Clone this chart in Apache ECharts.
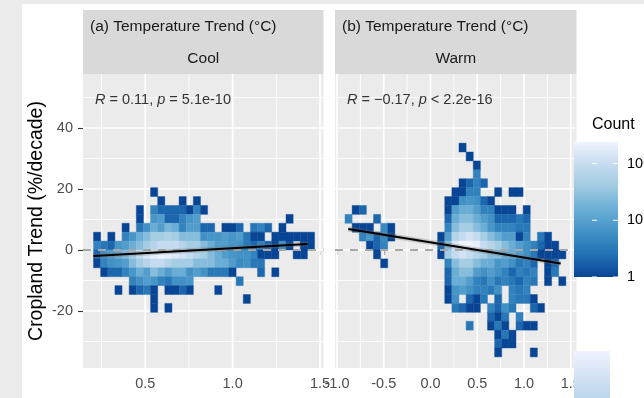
<!DOCTYPE html>
<html>
<head>
<meta charset="utf-8">
<script src="https://cdn.jsdelivr.net/npm/echarts@6/dist/echarts.min.js"></script>
<style>
html,body{margin:0;padding:0;background:#fff;}
#chart{width:644px;height:398px;}
</style>
</head>
<body>
<div id="chart"></div>
<script>
// ---------------- data ----------------
// Cropland trend bins (shared y): bin k spans [k*Y_BIN, (k+1)*Y_BIN]
const Y_BIN = 2.92;
// Cool panel: temperature-trend bins, column c spans [(COOL_FIRST+c)*COOL_BIN, ...]
const COOL_BIN = 0.0408;
const COOL_FIRST = 5;
const COOL_TOP_ROW = 6;
// Warm panel
const WARM_BIN = 0.0762;
const WARM_FIRST = -12;
const WARM_TOP_ROW = 11;

// counts per row (top row first); each entry = [column, count]
const coolRows = [
  [[8,1]],
  [[9,1],[12,1],[14,1]],
  [[6,1],[8,4],[9,2],[10,2],[11,2],[12,2],[13,1],[14,4],[15,1]],
  [[6,1],[8,7],[9,9],[10,2],[11,2],[12,4],[13,7],[14,9],[27,1]],
  [[4,1],[6,3],[7,6],[8,15],[9,9],[10,20],[11,15],[12,4],[13,9],[14,9],[15,2],[16,2],[18,1],[19,1],[20,2],[22,3],[23,4],[24,2],[26,1]],
  [[0,1],[2,1],[4,4],[5,7],[6,15],[7,25],[8,45],[9,45],[10,55],[11,45],[12,25],[13,25],[14,25],[15,6],[16,7],[17,7],[18,9],[19,7],[20,9],[21,3],[22,1],[23,1],[25,1],[26,1],[27,1],[28,1],[29,1],[30,1]],
  [[0,4],[1,3],[2,2],[3,7],[4,9],[5,15],[6,25],[7,45],[8,65],[9,95],[10,95],[11,95],[12,65],[13,45],[14,45],[15,25],[16,15],[17,9],[18,9],[19,7],[20,6],[21,3],[22,2],[23,4],[24,2],[25,1],[26,6],[27,1],[29,1],[30,1]],
  [[0,2],[1,6],[2,9],[3,15],[4,25],[5,45],[6,95],[7,150],[8,200],[9,240],[10,200],[11,160],[12,130],[13,95],[14,65],[15,45],[16,25],[17,15],[18,9],[19,7],[20,6],[21,6],[22,4],[23,1],[24,1],[25,1],[28,1],[29,1]],
  [[0,1],[1,4],[2,6],[3,7],[4,9],[5,25],[6,45],[7,65],[8,95],[9,95],[10,65],[11,45],[12,45],[13,45],[14,25],[15,25],[16,25],[17,15],[18,15],[19,9],[20,5],[21,6],[22,3],[23,3]],
  [[1,1],[2,2],[3,2],[4,4],[5,7],[6,15],[7,9],[8,25],[9,15],[10,9],[11,15],[12,15],[13,6],[14,9],[15,6],[16,3],[17,3],[18,3],[19,1],[23,2],[25,1]],
  [[5,4],[6,6],[7,9],[8,7],[9,4],[10,3],[11,6],[12,6],[13,7],[20,3]],
  [[3,1],[5,1],[6,2],[7,3],[8,1],[10,1],[11,1],[12,2],[13,1],[17,1]],
  [[8,1],[21,1]],
  [[8,1],[10,1]]
];

const warmRows = [
  [[16,1]],
  [[17,1]],
  [[18,1]],
  [[18,4]],
  [[16,1],[17,2],[18,4],[19,2]],
  [[15,1],[16,1],[17,4],[18,4],[21,1],[23,1],[24,1]],
  [[14,1],[15,1],[16,6],[17,7],[18,6],[19,2],[20,1]],
  [[1,1],[2,2],[14,1],[15,9],[16,15],[17,15],[18,9],[19,4],[20,4],[21,1],[22,1],[23,1],[25,1]],
  [[0,4],[4,2],[14,2],[15,15],[16,25],[17,25],[18,15],[19,9],[20,6],[21,2],[22,2],[23,2],[24,3],[25,2]],
  [[1,1],[2,1],[3,1],[5,5],[6,1],[14,4],[15,25],[16,45],[17,45],[18,25],[19,15],[20,7],[21,4],[22,4],[23,4],[24,3],[25,3]],
  [[2,4],[3,7],[4,2],[5,5],[6,1],[13,1],[14,9],[15,65],[16,95],[17,130],[18,95],[19,45],[20,25],[21,15],[22,9],[23,9],[24,1],[25,4],[27,3],[28,1]],
  [[3,1],[4,2],[5,4],[13,2],[14,25],[15,160],[16,240],[17,240],[18,200],[19,95],[20,65],[21,45],[22,25],[23,15],[24,9],[25,6],[26,4],[27,2],[28,1],[29,1]],
  [[4,1],[13,1],[14,45],[15,95],[16,130],[17,95],[18,65],[19,45],[20,25],[21,25],[22,15],[23,15],[24,9],[25,6],[26,3],[27,1],[28,1],[29,1],[30,1]],
  [[5,1],[14,4],[15,25],[16,45],[17,45],[18,25],[19,15],[20,15],[21,7],[22,9],[23,6],[24,3],[25,4],[26,2],[28,1],[29,2]],
  [[14,2],[15,15],[16,25],[17,25],[18,9],[19,6],[20,9],[21,6],[22,4],[23,2],[24,4],[25,3],[26,4],[28,1],[29,3]],
  [[14,2],[15,15],[16,15],[17,9],[18,4],[19,3],[20,6],[21,3],[22,4],[23,3],[24,2],[25,4],[26,3],[28,1],[30,1]],
  [[14,1],[15,7],[16,9],[17,6],[18,4],[19,4],[20,3],[21,6],[23,4],[24,3],[25,4]],
  [[14,1],[15,6],[17,2],[18,1],[19,3],[21,2],[23,4],[24,3],[25,3],[26,1]],
  [[15,3],[16,2],[17,1],[18,1],[20,4],[21,2],[22,6],[23,3],[26,2],[27,1]],
  [[20,2],[21,1],[22,3],[24,4]],
  [[17,3],[20,1],[21,3],[22,1],[24,2],[25,1],[26,1]],
  [[21,1],[22,3],[23,1]],
  [[21,2],[22,1],[23,1]],
  [[21,1],[26,1]]
];

// linear fits (end points)
const coolFitX = [0.203, 1.429];
const coolFitY = [-2.0, 2.0];
const warmFitX = [-0.879, 1.392];
const warmFitY = [6.9, -4.4];

// axes
const coolXRange = [0.1437, 1.5201];
const warmXRange = [-1.0214, 1.5615];
const yRange = [-38.69, 57.70];
const coolXMajor = [0.5, 1.0, 1.5];
const coolXMinor = [0.25, 0.75, 1.25];
const warmXMajor = [-1.0, -0.5, 0.0, 0.5, 1.0, 1.5];
const warmXMinor = [-0.75, -0.25, 0.25, 0.75, 1.25];
const yMajor = [-20, 0, 20, 40];
const yMinor = [-30, -10, 10, 30, 50];

const countTicks = [1, 10, 100];
const countMaxLog = 2.38;

const stripTitles = ['(a) Temperature Trend (\u00B0C)', '(b) Temperature Trend (\u00B0C)'];
const panelNames = ['Cool', 'Warm'];
const statLabels = ['{i|R} = 0.11, {i|p} = 5.1e-10', '{i|R} = \u22120.17, {i|p} < 2.2e-16'];

// ---------------- build ----------------
const BLUES = ['#084594', '#2171B5', '#4292C6', '#6BAED6', '#9ECAE1', '#C6DBEF', '#EFF3FF'];
const FONT = 'Liberation Sans, Arial, Helvetica, sans-serif';

function cells(rows, first, bw, topRow) {
  const out = [];
  rows.forEach((row, r) => {
    const k = topRow - r;
    row.forEach(([c, n]) => {
      out.push([(first + c + 0.5) * bw, (k + 0.5) * Y_BIN, Math.log10(n), n]);
    });
  });
  return out;
}

function tileRender(bw) {
  return function (params, api) {
    const x = api.value(0), y = api.value(1);
    const p1 = api.coord([x - bw / 2, y + Y_BIN / 2]);
    const p2 = api.coord([x + bw / 2, y - Y_BIN / 2]);
    const col = api.visual('color');
    return {
      type: 'rect',
      shape: { x: p1[0], y: p1[1], width: p2[0] - p1[0], height: p2[1] - p1[1] },
      style: { fill: col, stroke: col, lineWidth: 0.4 }
    };
  };
}

function gridData(xMaj, xMin, xMid) {
  const d = [];
  yMinor.forEach(v => d.push([xMid, v, 1, 0]));
  xMin.forEach(v => d.push([v, 0, 0, 0]));
  yMajor.forEach(v => d.push([xMid, v, 1, 1]));
  xMaj.forEach(v => d.push([v, 0, 0, 1]));
  return d;
}
function gridRender(params, api) {
  const cs = params.coordSys;
  const p = api.coord([api.value(0), api.value(1)]);
  const horiz = api.value(2) === 1;
  const major = api.value(3) === 1;
  const shape = horiz
    ? { x1: cs.x, y1: p[1], x2: cs.x + cs.width, y2: p[1] }
    : { x1: p[0], y1: cs.y, x2: p[0], y2: cs.y + cs.height };
  return { type: 'line', shape: shape, style: { stroke: '#ffffff', lineWidth: major ? 1.7 : 0.85 } };
}
function zeroRender(params, api) {
  const cs = params.coordSys;
  const p = api.coord([api.value(0), api.value(1)]);
  return { type: 'line', shape: { x1: cs.x, y1: p[1], x2: cs.x + cs.width, y2: p[1] },
           style: { stroke: '#a8a8a8', lineWidth: 1.8, lineDash: [8, 7] } };
}

const GRID_TOP = 74, GRID_H = 294;
const grids = [
  { left: 83, top: GRID_TOP, width: 240.5, height: GRID_H },
  { left: 335, top: GRID_TOP, width: 241.5, height: GRID_H }
];

function xAxis(idx, range, ticks) {
  return {
    type: 'value', gridIndex: idx, min: range[0], max: range[1],
    axisLine: { show: false },
    splitLine: { show: false },
    axisTick: { show: true, customValues: ticks, length: 5, lineStyle: { color: '#333', width: 1.1 } },
    axisLabel: { show: true, customValues: ticks, margin: 8, color: '#4d4d4d', fontSize: 14.5, fontFamily: FONT,
                 formatter: v => v.toFixed(1) }
  };
}
function yAxis(idx, labels) {
  const a = {
    type: 'value', gridIndex: idx, min: yRange[0], max: yRange[1],
    axisLine: { show: false },
    splitLine: { show: false },
    axisTick: { show: labels, customValues: yMajor, length: 5, lineStyle: { color: '#333', width: 1.1 } },
    axisLabel: { show: labels, customValues: yMajor, margin: 10, color: '#4d4d4d', fontSize: 14.5, fontFamily: FONT,
                 formatter: v => String(v) }
  };
  if (labels) {
    a.name = 'Cropland Trend (%/decade)';
    a.nameLocation = 'middle';
    a.nameGap = 36;
    a.nameTextStyle = { color: '#000', fontSize: 19.5, fontFamily: FONT };
  }
  return a;
}

const coolCells = cells(coolRows, COOL_FIRST, COOL_BIN, COOL_TOP_ROW);
const warmCells = cells(warmRows, WARM_FIRST, WARM_BIN, WARM_TOP_ROW);

const series = [
  { type: 'custom', xAxisIndex: 0, yAxisIndex: 0, data: gridData(coolXMajor, coolXMinor, 1.0), renderItem: gridRender, silent: true, z: 1 },
  { type: 'custom', xAxisIndex: 1, yAxisIndex: 1, data: gridData(warmXMajor, warmXMinor, 0.0), renderItem: gridRender, silent: true, z: 1 },
  { type: 'custom', xAxisIndex: 0, yAxisIndex: 0, data: coolCells, renderItem: tileRender(COOL_BIN), z: 2, silent: true },
  { type: 'custom', xAxisIndex: 1, yAxisIndex: 1, data: warmCells, renderItem: tileRender(WARM_BIN), z: 2, silent: true },
  { type: 'custom', xAxisIndex: 0, yAxisIndex: 0, data: [[1.0, 0]], renderItem: zeroRender, z: 3, silent: true },
  { type: 'custom', xAxisIndex: 1, yAxisIndex: 1, data: [[0.0, 0]], renderItem: zeroRender, z: 3, silent: true }
];
[[0, coolFitX, coolFitY], [1, warmFitX, warmFitY]].forEach(([i, xs, ys]) => {
  const d = xs.map((x, j) => [x, ys[j]]);
  series.push({ type: 'line', xAxisIndex: i, yAxisIndex: i, data: d, symbol: 'none', silent: true, z: 4,
                lineStyle: { color: 'rgba(110,110,110,0.3)', width: 5 } });
  series.push({ type: 'line', xAxisIndex: i, yAxisIndex: i, data: d, symbol: 'none', silent: true, z: 5,
                lineStyle: { color: '#000', width: 2 } });
});

// legend geometry
const LEG_X = 574, LEG_W = 44, LEG_TOP = 142, LEG_BOT = 277;
const legendPx = v => LEG_BOT - (Math.log10(v) / countMaxLog) * (LEG_BOT - LEG_TOP);

const graphic = [
  { type: 'rect', shape: { x: 0, y: 0, width: 644, height: 4 }, style: { fill: '#ebebeb' }, z: -10 },
  { type: 'rect', shape: { x: 0, y: 0, width: 22, height: 398 }, style: { fill: '#ebebeb' }, z: -10 }
];
grids.forEach((g, i) => {
  graphic.push({ type: 'rect', shape: { x: g.left, y: 10, width: g.width, height: GRID_TOP - 10 }, style: { fill: '#d9d9d9' }, z: -5 });
  graphic.push({ type: 'rect', shape: { x: g.left, y: GRID_TOP, width: g.width, height: GRID_H }, style: { fill: '#ebebeb' }, z: -5 });
  graphic.push({ type: 'text', x: g.left + 7, y: 27, style: { text: stripTitles[i], fill: '#1a1a1a', font: '15.5px ' + FONT, textVerticalAlign: 'middle' }, z: 10 });
  graphic.push({ type: 'text', x: g.left + g.width / 2, y: 59, style: { text: panelNames[i], fill: '#1a1a1a', font: '15.5px ' + FONT, textAlign: 'center', textVerticalAlign: 'middle' }, z: 10 });
  graphic.push({ type: 'text', x: g.left + 12, y: 100, style: { text: statLabels[i], fill: '#333', font: '14.5px ' + FONT, textVerticalAlign: 'middle',
                 rich: { i: { fontStyle: 'italic', font: 'italic 14.5px ' + FONT, fill: '#333' } } }, z: 10 });
});
// legend
graphic.push({ type: 'text', x: 592, y: 125, style: { text: 'Count', fill: '#000', font: '16px ' + FONT, textVerticalAlign: 'middle' }, z: 20 });
graphic.push({ type: 'rect', shape: { x: LEG_X, y: LEG_TOP, width: LEG_W, height: LEG_BOT - LEG_TOP },
  style: { fill: new echarts.graphic.LinearGradient(0, 1, 0, 0, BLUES.map((c, i) => ({ offset: i / (BLUES.length - 1), color: c }))) }, z: 20 });
countTicks.forEach(v => {
  const y = legendPx(v);
  graphic.push({ type: 'line', shape: { x1: 592, y1: y, x2: 597, y2: y }, style: { stroke: '#fff', lineWidth: 1 }, z: 21 });
  graphic.push({ type: 'line', shape: { x1: 613, y1: y, x2: 618, y2: y }, style: { stroke: '#fff', lineWidth: 1 }, z: 21 });
  graphic.push({ type: 'text', x: 627, y: y, style: { text: String(v), fill: '#000', font: '14.5px ' + FONT, textVerticalAlign: 'middle' }, z: 21 });
});
graphic.push({ type: 'rect', shape: { x: 574, y: 351, width: 36, height: 47 },
  style: { fill: new echarts.graphic.LinearGradient(0, 0, 0, 1, [{ offset: 0, color: '#EFF3FF' }, { offset: 1, color: '#BBD5EB' }]) }, z: 20 });

const chart = echarts.init(document.getElementById('chart'), null, { renderer: 'canvas' });
chart.setOption({
  animation: false,
  backgroundColor: '#ffffff',
  textStyle: { fontFamily: FONT },
  grid: grids,
  xAxis: [xAxis(0, coolXRange, coolXMajor), xAxis(1, warmXRange, warmXMajor)],
  yAxis: [yAxis(0, true), yAxis(1, false)],
  visualMap: { type: 'continuous', show: false, dimension: 2, min: 0, max: countMaxLog, seriesIndex: [2, 3],
               inRange: { color: BLUES } },
  series: series,
  graphic: graphic
});
</script>
</body>
</html>
